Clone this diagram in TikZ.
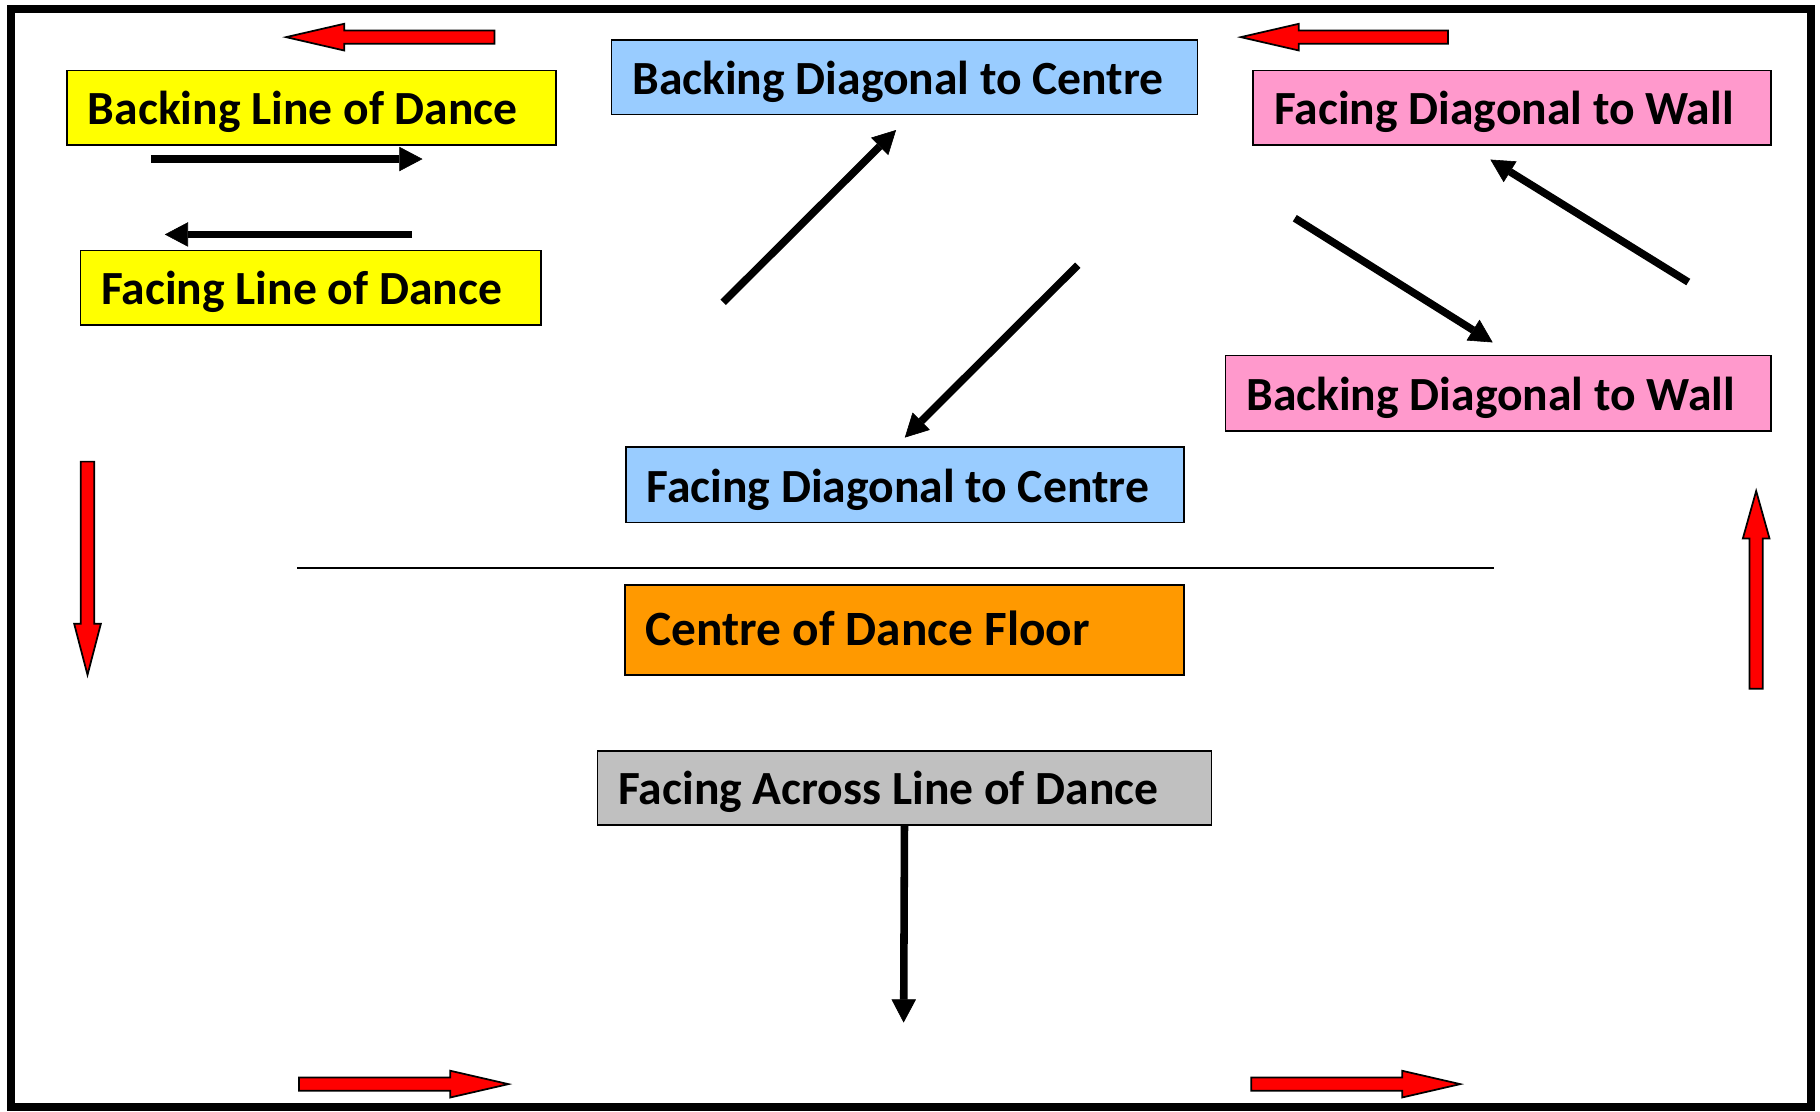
\documentclass[tikz,border=0pt]{standalone}
\usepackage{fontspec}
\setmainfont{Carlito}
\usetikzlibrary{arrows.meta}
\definecolor{yel}{HTML}{FFFF00}
\definecolor{lblue}{HTML}{99CCFF}
\definecolor{pnk}{HTML}{FF99CC}
\definecolor{orng}{HTML}{FF9900}
\definecolor{gry}{HTML}{C0C0C0}
\newcommand\lbltxt[2]{\makebox[#1pt][l]{#2}}
\newcommand\redarr[5]{\draw[redarrow,shift={(#1,#2)},rotate=#3] (0,-5.75)--({#4-#5},-5.75)--({#4-#5},-11.5)--(#4,0)--({#4-#5},11.5)--({#4-#5},5.75)--(0,5.75)--cycle;}
\begin{document}
\begin{tikzpicture}[x=1pt,y=-1pt,
  lbl/.style={draw=black, line width=1.5pt, font=\fontsize{41}{49}\selectfont\bfseries,
    inner xsep=18pt, inner ysep=0pt, text height=29.5pt, text depth=0pt, anchor=north west},
  blk/.style={line width=6.5pt, -{Triangle[length=20pt,width=21pt,line width=0.5pt]}},
  redarrow/.style={fill=red, draw=black, line width=1.5pt, line join=miter}]
\useasboundingbox (0,0) rectangle (1568,958);
\draw[line width=6.9pt] (9.7,7.5) rectangle (1560,953.5);

\node[lbl,fill=yel,minimum height=64pt] (blod) at (57,60) {\lbltxt{385}{Backing Line of Dance}};
\node[lbl,fill=yel,minimum height=64pt] (flod) at (68.5,215) {\lbltxt{361}{Facing Line of Dance}};
\node[lbl,fill=lblue,minimum height=64pt] (bdc) at (526,34) {\lbltxt{469}{Backing Diagonal to Centre}};
\node[lbl,fill=lblue,minimum height=65pt] (fdc) at (538.3,384.5) {\lbltxt{445}{Facing Diagonal to Centre}};
\node[lbl,fill=pnk,minimum height=64pt] (fdw) at (1079,60) {\lbltxt{410}{Facing Diagonal to Wall}};
\node[lbl,fill=pnk,minimum height=65pt] (bdw) at (1055,305.5) {\lbltxt{434}{Backing Diagonal to Wall}};
\node[lbl,fill=orng,minimum height=78pt,font=\fontsize{42.5}{50}\selectfont\bfseries,text height=27pt,inner xsep=17.5pt] (cdf) at (538,503) {\lbltxt{446}{Centre of Dance Floor}};
\node[lbl,fill=gry,minimum height=64pt] (fald) at (514,646) {\lbltxt{493}{Facing Across Line of Dance}};

\coordinate (a1) at (130,137);   \coordinate (a2) at (364,137);
\coordinate (b1) at (355,202);   \coordinate (b2) at (142,202);
\coordinate (c1) at (623,260.5); \coordinate (c2) at (772,112);
\coordinate (d1) at (928.5,228.5); \coordinate (d2) at (779.5,377);
\coordinate (e1) at (1115.5,188); \coordinate (e2) at (1286,295);
\coordinate (f1) at (1454.5,243); \coordinate (f2) at (1284,137.5);
\coordinate (g2) at (778.5,881);
\coordinate (l1) at (256,489.5); \coordinate (l2) at (1287,489.5);

\draw[blk] (a1) -- (a2);
\draw[blk] (b1) -- (b2);
\draw[blk] (c1) -- (c2);
\draw[blk] (d1) -- (d2);
\draw[blk] (e1) -- (e2);
\draw[blk] (f1) -- (f2);
\draw[blk] (fald.south) -- (g2);
\draw[line width=1.5pt] (l1) -- (l2);

\redarr{426}{32}{180}{179.5}{50}
\redarr{1247.5}{32}{180}{178.5}{50}
\redarr{257.5}{934}{0}{180.5}{50}
\redarr{1078}{934}{0}{180}{50}
\redarr{75.4}{397.7}{-90}{183.7}{44}
\redarr{1513}{593.4}{90}{170.4}{41}
\end{tikzpicture}
\end{document}
